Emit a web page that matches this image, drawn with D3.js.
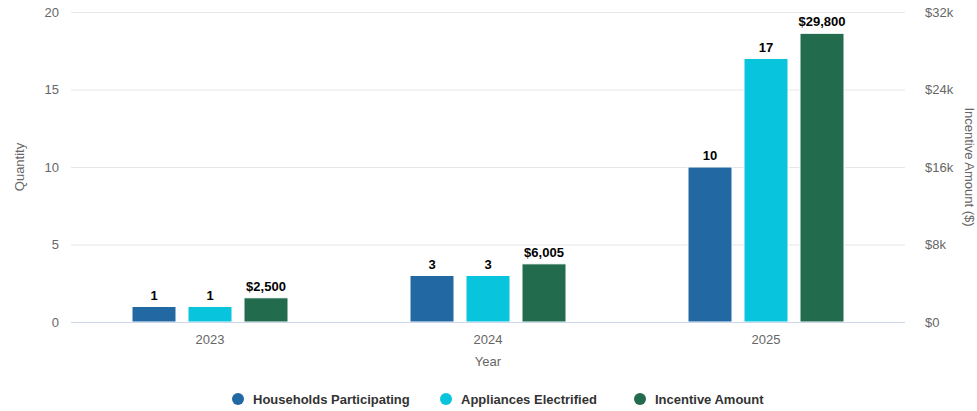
<!DOCTYPE html>
<html><head><meta charset="utf-8">
<script src="https://cdn.jsdelivr.net/npm/d3@7"></script>
<style>body{margin:0;background:#fff;font-family:"Liberation Sans",Arial,sans-serif;}</style>
</head><body><svg id="c" width="977" height="411"></svg>
<script>
const categories = ["2023","2024","2025"];
const households = [1,3,10];
const appliances = [1,3,17];
const incentive = [2500,6005,29800];
const leftTicks = [0,5,10,15,20];
const rightTicks = [0,8000,16000,24000,32000];
const seriesNames = ["Households Participating","Appliances Electrified","Incentive Amount"];
const colors = ["#2268a3","#08c4dc","#226b4d"];

const svg = d3.select("#c");
const L=71, R=905, T=12, B=322;
const x = d3.scaleBand().domain(categories).range([L,R]);
const yL = d3.scaleLinear().domain([0,20]).range([B,T]);
const yR = d3.scaleLinear().domain([0,32000]).range([B,T]);
const sub = d3.scaleBand().domain([0,1,2]).range([-78,78]).paddingInner(12/56);

// gridlines
svg.append("g").selectAll("line").data(leftTicks.slice(1)).join("line")
  .attr("x1",L).attr("x2",R).attr("y1",d=>yL(d)+0.5).attr("y2",d=>yL(d)+0.5)
  .attr("stroke","#e6e6e6").attr("stroke-width",1);

// left axis
const la = svg.append("g").attr("transform",`translate(${L},0)`)
  .call(d3.axisLeft(yL).tickValues(leftTicks).tickSize(0).tickPadding(12));
la.select(".domain").remove();
la.selectAll("text").attr("fill","#666").attr("font-size",13).attr("font-family","Liberation Sans, Arial, sans-serif");

// right axis
const ra = svg.append("g").attr("transform",`translate(${R},0)`)
  .call(d3.axisRight(yR).tickValues(rightTicks).tickSize(0).tickPadding(20)
    .tickFormat(d=> d===0?"$0":"$"+(d/1000)+"k"));
ra.select(".domain").remove();
ra.selectAll("text").attr("fill","#666").attr("font-size",13).attr("font-family","Liberation Sans, Arial, sans-serif");

// bars
const groups = [households, appliances, incentive];
groups.forEach((vals,si)=>{
  const sc = si===2? yR : yL;
  svg.append("g").selectAll("rect").data(vals).join("rect")
    .attr("x",(d,i)=>x(categories[i])+x.bandwidth()/2+sub(si))
    .attr("width",sub.bandwidth())
    .attr("y",d=>sc(d))
    .attr("height",d=>B-sc(d))
    .attr("fill",colors[si]).attr("stroke","#fff").attr("stroke-width",1);
  svg.append("g").selectAll("text").data(vals).join("text")
    .attr("x",(d,i)=>x(categories[i])+x.bandwidth()/2+sub(si)+sub.bandwidth()/2)
    .attr("y",d=>sc(d)-7)
    .attr("text-anchor","middle").attr("font-size",13).attr("font-weight","bold").attr("fill","#000")
    .text(d=> si===2 ? "$"+d3.format(",")(d) : d);
});

// bottom axis line
svg.append("line").attr("x1",L).attr("x2",R).attr("y1",B+0.5).attr("y2",B+0.5)
  .attr("stroke","#ccd6eb").attr("stroke-width",1);
const ba = svg.append("g").attr("transform",`translate(0,${B})`)
  .call(d3.axisBottom(x).tickSize(0).tickPadding(13));
ba.select(".domain").remove();
ba.selectAll("text").attr("fill","#666").attr("font-size",13).attr("font-family","Liberation Sans, Arial, sans-serif");

// axis titles
svg.append("text").attr("transform",`translate(24,${(T+B)/2}) rotate(-90)`).attr("text-anchor","middle")
  .attr("fill","#666").attr("font-size",13).text("Quantity");
svg.append("text").attr("x",(L+R)/2).attr("y",366).attr("text-anchor","middle")
  .attr("fill","#666").attr("font-size",13).text("Year");
svg.append("text").attr("transform",`translate(965,${(T+B)/2}) rotate(90)`).attr("text-anchor","middle")
  .attr("fill","#666").attr("font-size",13).text("Incentive Amount ($)");

// legend
const legX = [238,446,640];
const lg = svg.append("g").selectAll("g").data(seriesNames).join("g")
  .attr("transform",(d,i)=>`translate(${legX[i]},399)`);
lg.append("circle").attr("r",6).attr("fill",(d,i)=>colors[i]);
lg.append("text").attr("x",15).attr("y",4.5).attr("font-size",13).attr("font-weight","bold")
  .attr("fill","#333").text(d=>d);
</script></body></html>
